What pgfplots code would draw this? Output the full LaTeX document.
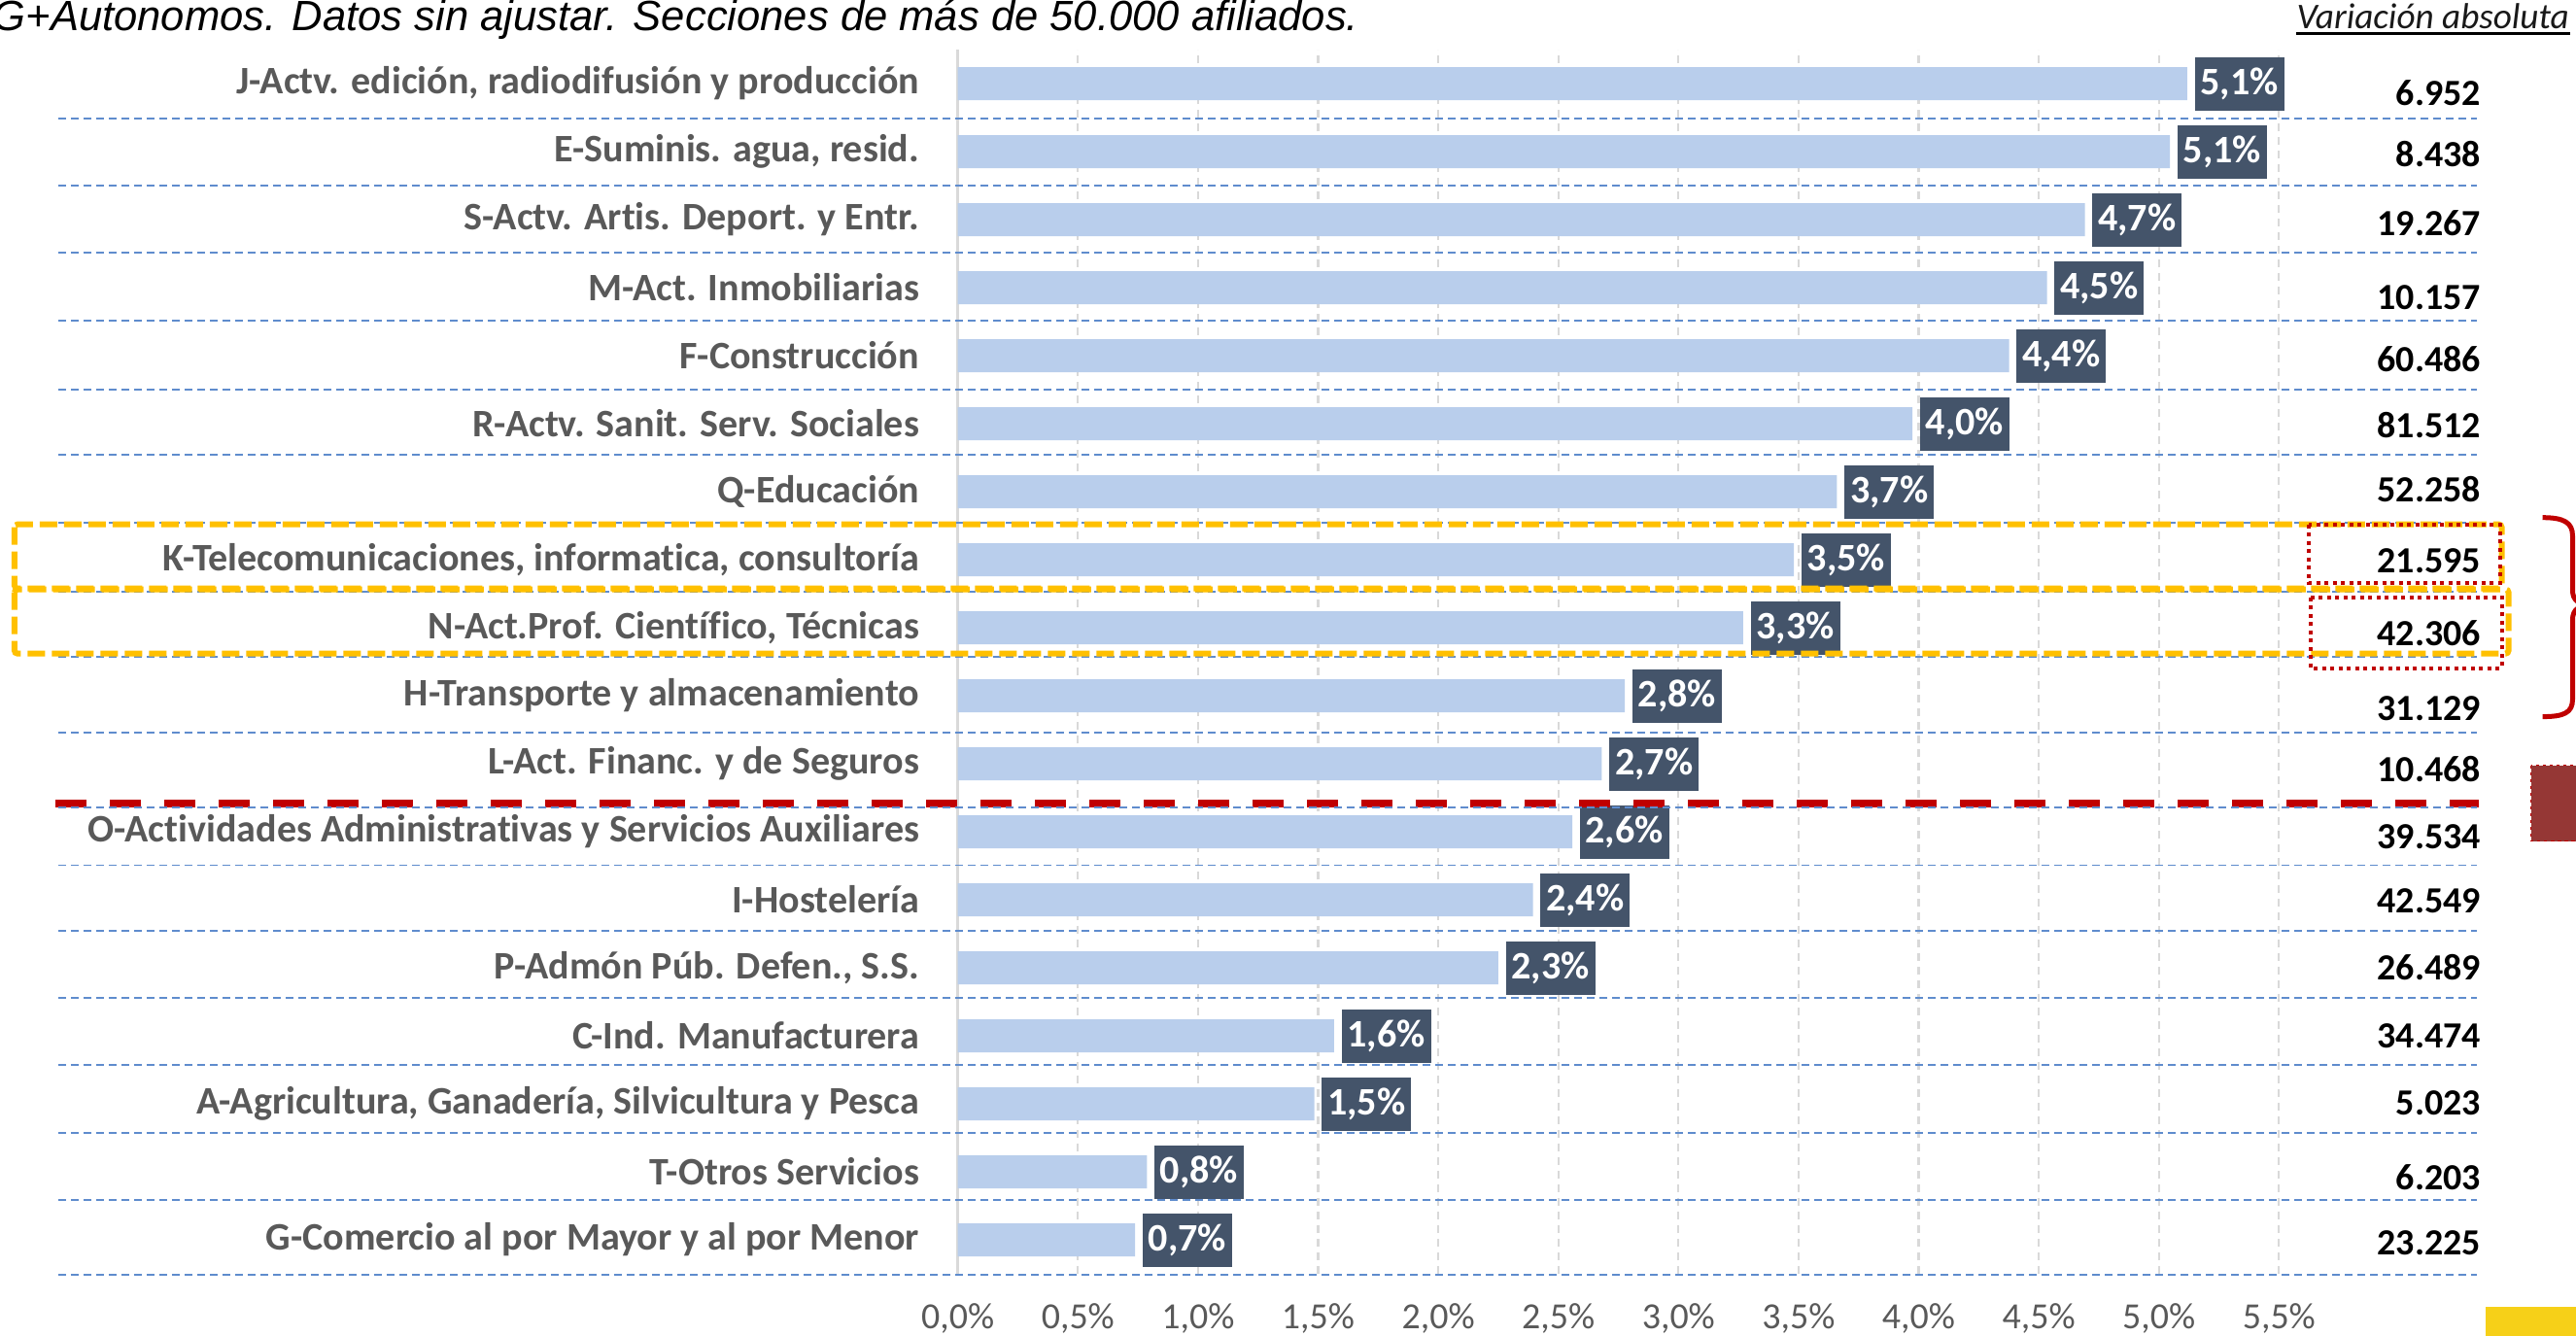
\documentclass[border=0pt]{standalone}
\usepackage{pgfplots}
\pgfplotsset{compat=1.18}
\usepackage{pgfplotstable}
\usepackage{fontspec}
\setmainfont{Carlito}[Ligatures=NoCommon]
\newfontfamily\arialfont{Liberation Sans}
\definecolor{barblue}{RGB}{185,206,236}
\definecolor{boxblue}{RGB}{68,84,106}
\definecolor{labgrey}{RGB}{89,89,89}
\definecolor{gridgrey}{RGB}{217,217,217}
\definecolor{sepblue}{RGB}{95,140,205}
\definecolor{xlred}{RGB}{192,0,0}
\definecolor{xlgold}{RGB}{255,192,0}
\definecolor{darkred}{RGB}{149,55,53}
\definecolor{ylw}{RGB}{246,208,24}

% idx 17 = top row (J) ... 0 = bottom row (G)
\pgfplotstableread{
idx val lab
17 5.118 5,1
16 5.046 5,1
15 4.692 4,7
14 4.534 4,5
13 4.377 4,4
12 3.974 4,0
11 3.660 3,7
10 3.481 3,5
9 3.269 3,3
8 2.777 2,8
7 2.681 2,7
6 2.558 2,6
5 2.394 2,4
4 2.250 2,3
3 1.566 1,6
2 1.484 1,5
1 0.787 0,8
0 0.738 0,7
}\bars

\begin{document}
\begin{tikzpicture}
\begin{axis}[
  at={(9.857cm,-13.11cm)}, anchor=south west,
  width=13.596cm, height=12.6cm, scale only axis,
  xmin=0, xmax=5.5, ymin=-0.5, ymax=17.5,
  xbar, bar width=0.34cm,
  axis line style={draw=none},
  major tick length=0pt,
  xtick={0,0.5,1,1.5,2,2.5,3,3.5,4,4.5,5,5.5},
  xticklabels={{0,0\%},{0,5\%},{1,0\%},{1,5\%},{2,0\%},{2,5\%},{3,0\%},{3,5\%},{4,0\%},{4,5\%},{5,0\%},{5,5\%}},
  ytick={0,...,17},
  yticklabels={
    {G-Comercio al por Mayor y al por Menor},
    {T-Otros Servicios},
    {A-Agricultura, Ganadería, Silvicultura y Pesca},
    {C-Ind. Manufacturera},
    {P-Admón Púb. Defen., S.S.},
    {I-Hostelería},
    {O-Actividades Administrativas y Servicios Auxiliares},
    {L-Act. Financ. y de Seguros},
    {H-Transporte y almacenamiento},
    {N-Act.Prof. Científico, Técnicas},
    {K-Telecomunicaciones, informatica, consultoría},
    {Q-Educación},
    {R-Actv. Sanit. Serv. Sociales},
    {F-Construcción},
    {M-Act. Inmobiliarias},
    {S-Actv. Artis. Deport. y Entr.},
    {E-Suminis. agua, resid.},
    {J-Actv. edición, radiodifusión y producción}},
  xmajorgrids, ymajorgrids=false,
  major grid style={gridgrey, dash pattern=on 0.08cm off 0.06cm, line width=0.6pt},
  xticklabel style={font=\fontsize{10.8}{12}\selectfont, text=labgrey, anchor=base, inner sep=0pt, yshift=-0.56cm},
  yticklabel style={font=\bfseries\fontsize{11.4}{13}\selectfont, text=labgrey, anchor=east, inner sep=0pt, xshift=-0.39cm},
  clip=false,
  point meta=explicit symbolic,
  nodes near coords={\pgfplotspointmeta\%},
  every node near coord/.append style={anchor=west, xshift=0.07cm, fill=boxblue, text=white, font=\bfseries\fontsize{11.4}{13}\selectfont, minimum height=0.55cm, minimum width=0.92cm, inner sep=0pt},
]
\draw[gridgrey, line width=0.8pt] (axis cs:0,-0.5) -- (axis cs:0,17.5);
\addplot[fill=barblue, draw=none] table[x=val, y=idx, meta=lab] {\bars};
\end{axis}

\begin{scope}[x=0.01cm, y=-0.01cm]
% red dashed separator
\draw[xlred, line width=0.08cm, dash pattern=on 0.32cm off 0.24cm] (57,827) -- (2552,827);
% blue separators
\foreach \yy in {122,191,260,330,401,468,538,609,676,754,831,891,959,1028,1097,1167,1236,1313}
  \draw[sepblue, line width=0.55pt, dash pattern=on 0.08cm off 0.05cm] (60,\yy) -- (2550,\yy);
% yellow dashed boxes
\draw[xlgold, line width=0.06cm, dash pattern=on 0.18cm off 0.07cm, rounded corners=0.03cm] (15,540) rectangle (2576,606);
\draw[xlgold, line width=0.06cm, dash pattern=on 0.18cm off 0.07cm, rounded corners=0.03cm] (15,607) rectangle (2583,673);
% red dotted boxes
\draw[xlred, line width=0.04cm, dash pattern=on 0.04cm off 0.045cm] (2377,540) rectangle (2574,600);
\draw[xlred, line width=0.04cm, dash pattern=on 0.04cm off 0.045cm] (2379,615) rectangle (2576,688);
% brace
\draw[xlred, line width=0.05cm] (2618,533) .. controls (2640,533) and (2649,538) .. (2649,552) -- (2649,608) .. controls (2649,618) and (2655,623) .. (2670,623) .. controls (2655,623) and (2649,628) .. (2649,638) -- (2649,720) .. controls (2649,734) and (2640,738) .. (2618,738);
% dark red square
\draw[xlred, line width=0.3pt, dash pattern=on 1pt off 1pt, fill=darkred] (2606,788) rectangle (2680,866);
% yellow rect bottom right
\fill[ylw] (2559,1346) rectangle (2680,1400);
% title
\node[anchor=base west, inner sep=0pt, font=\arialfont\itshape\fontsize{12.4}{14}\selectfont] at (-8,32) {G+Autonomos. Datos sin ajustar. Secciones de más de 50.000 afiliados.};
% column header
\node[anchor=base east, inner sep=0pt, text=black!90, font=\itshape\fontsize{10.6}{12}\selectfont] at (2646,30) {Variación absoluta};
\draw[black, line width=0.03cm] (2364,35) -- (2646,35);
% absolute variations
\foreach \yy/\txt in {96/6.952,159/8.438,230/19.267,306/10.157,370/60.486,438/81.512,504/52.258,578/21.595,652/42.306,730/31.129,792/10.468,862/39.534,928/42.549,996/26.489,1067/34.474,1136/5.023,1212/6.203,1280/23.225}
  \node[anchor=east, inner sep=0pt, font=\bfseries\fontsize{10.8}{12}\selectfont] at (2555,\yy) {\txt};
\end{scope}
\pgfresetboundingbox
\useasboundingbox (0,0) rectangle (26.51cm,-13.74cm);
\end{tikzpicture}
\end{document}
